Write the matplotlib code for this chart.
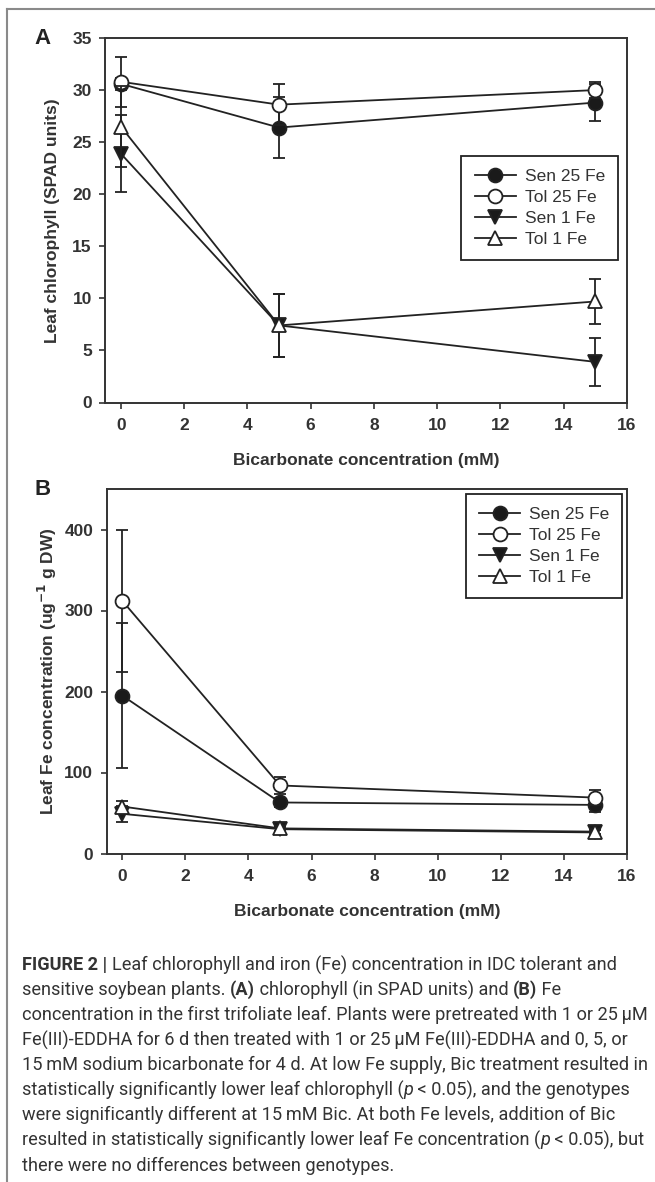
import numpy as np
import matplotlib
matplotlib.use("Agg")
import matplotlib.pyplot as plt
from matplotlib.lines import Line2D

W, H = 655, 1182

# bicarbonate concentration (mM)
bic = [0, 5, 15]

# panel A - leaf chlorophyll (SPAD units)
chl_sen25 = [30.6, 26.4, 28.8]
chl_sen25_err = [0.6, 2.9, 1.8]
chl_tol25 = [30.8, 28.6, 30.0]
chl_tol25_err = [2.4, 2.0, 0.8]
chl_sen1 = [23.9, 7.4, 3.9]
chl_sen1_err = [3.7, 3.0, 2.3]
chl_tol1 = [26.5, 7.4, 9.7]
chl_tol1_err = [3.9, 3.0, 2.2]

# panel B - leaf Fe concentration
fe_sen25 = [195, 63, 60]
fe_sen25_err = [90, 5, 9]
fe_tol25 = [312, 84, 69]
fe_tol25_err = [88, 10, 9]
fe_sen1 = [49, 30, 26]
fe_sen1_err = [10, 3, 3]
fe_tol1 = [58, 31, 27]
fe_tol1_err = [7, 3, 3]

labels = ["Sen 25 Fe", "Tol 25 Fe", "Sen 1 Fe", "Tol 1 Fe"]
markers = ["o", "o", "v", "^"]
faces = ["#1a1a1a", "white", "#1a1a1a", "white"]

plt.rcParams['font.family'] = ['Liberation Sans', 'DejaVu Sans']
INK = "#222222"
FS = 12.5

fig = plt.figure(figsize=(W / 100, H / 100), dpi=100)


def box(l, t, r, b):
    return [l / W, 1 - b / H, (r - l) / W, (b - t) / H]


def style_axes(ax):
    for s in ax.spines.values():
        s.set_linewidth(1.4)
        s.set_color("#333333")
    ax.tick_params(direction="out", length=4.5, width=1.2, color="#333333",
                   labelsize=FS, pad=5)
    ax.tick_params(axis="x", pad=7)
    for lab in ax.get_xticklabels() + ax.get_yticklabels():
        lab.set_fontweight("bold")
        lab.set_color("#333333")


def draw_panel(ax, series, errs):
    for i in range(4):
        ax.errorbar(bic, series[i], yerr=errs[i], color=INK, lw=1.3,
                    elinewidth=1.3, capsize=4.5, capthick=1.3,
                    marker=markers[i], ms=10, mfc=faces[i], mec=INK, mew=1.3,
                    zorder=3 + i)


# ---------- panel A
axA = fig.add_axes(box(105, 38, 627, 402.5))
draw_panel(axA, [chl_sen25, chl_tol25, chl_sen1, chl_tol1],
           [chl_sen25_err, chl_tol25_err, chl_sen1_err, chl_tol1_err])
axA.set_xlim(-0.5, 16)
axA.set_ylim(0, 35)
axA.set_xticks(np.arange(0, 17, 2))
axA.set_yticks(np.arange(0, 36, 5))
style_axes(axA)
axA.set_ylabel("Leaf chlorophyll (SPAD units)", fontsize=FS, fontweight="bold",
               color="#333333", labelpad=9)
axA.set_xlabel("Bicarbonate concentration (mM)", fontsize=FS, fontweight="bold",
               color="#333333", labelpad=14)

# ---------- panel B
axB = fig.add_axes(box(106.5, 489, 627, 853.5))
draw_panel(axB, [fe_sen25, fe_tol25, fe_sen1, fe_tol1],
           [fe_sen25_err, fe_tol25_err, fe_sen1_err, fe_tol1_err])
axB.set_xlim(-0.5, 16)
axB.set_ylim(0, 450)
axB.set_xticks(np.arange(0, 17, 2))
axB.set_yticks(np.arange(0, 401, 100))
style_axes(axB)
axB.set_ylabel("Leaf Fe concentration (ug$^{\\mathbf{-1}}$ g DW)", fontsize=FS,
               fontweight="bold", color="#333333", labelpad=4)
axB.set_xlabel("Bicarbonate concentration (mM)", fontsize=FS, fontweight="bold",
               color="#333333", labelpad=14)

handles = [Line2D([], [], color=INK, lw=1.3, marker=markers[i], ms=10,
                  mfc=faces[i], mec=INK, mew=1.3) for i in range(4)]
for ax, anchor in [(axA, (0.983, 0.676)), (axB, (0.991, 0.986))]:
    leg = ax.legend(handles, labels, loc="upper right", bbox_to_anchor=anchor,
                    borderaxespad=0, fancybox=False, framealpha=1,
                    edgecolor="#222222", fontsize=FS, handlelength=2.4,
                    handletextpad=0.5, labelspacing=0.33, borderpad=0.75)
    leg.get_frame().set_linewidth(1.3)
    for t in leg.get_texts():
        t.set_color("#333333")

# panel letters
fig.text(34 / W, 1 - 38 / H, "A", fontsize=16, fontweight="bold", va="center",
         color="#222222")
fig.text(34 / W, 1 - 490 / H, "B", fontsize=16, fontweight="bold", va="center",
         color="#222222")

# outer frame lines
fig.add_artist(Line2D([7 / W, 7 / W], [0, 1 - 9 / H], color="#8a8a8a", lw=1.5))
fig.add_artist(Line2D([7 / W, 1], [1 - 9 / H, 1 - 9 / H], color="#8a8a8a", lw=1.5))

# caption
cap_lines = [
    [("FIGURE 2 | ", "bold", "normal"),
     ("Leaf chlorophyll and iron (Fe) concentration in IDC tolerant and", "normal", "normal")],
    [("sensitive soybean plants. ", "normal", "normal"), ("(A)", "bold", "normal"),
     (" chlorophyll (in SPAD units) and ", "normal", "normal"), ("(B)", "bold", "normal"),
     (" Fe", "normal", "normal")],
    [("concentration in the first trifoliate leaf. Plants were pretreated with 1 or 25\u2009\u03bcM", "normal", "normal")],
    [("Fe(III)-EDDHA for 6 d then treated with 1 or 25\u2009\u03bcM Fe(III)-EDDHA and 0, 5, or", "normal", "normal")],
    [("15\u2009mM sodium bicarbonate for 4 d. At low Fe supply, Bic treatment resulted in", "normal", "normal")],
    [("statistically significantly lower leaf chlorophyll (", "normal", "normal"), ("p", "normal", "italic"),
     (" < 0.05), and the genotypes", "normal", "normal")],
    [("were significantly different at 15\u2009mM Bic. At both Fe levels, addition of Bic", "normal", "normal")],
    [("resulted in statistically significantly lower leaf Fe concentration (", "normal", "normal"),
     ("p", "normal", "italic"), (" < 0.05), but", "normal", "normal")],
    [("there were no differences between genotypes.", "normal", "normal")],
]
cap_y = [965, 990, 1015, 1040, 1065, 1090, 1115, 1140, 1166]
cap_family = ['Roboto', 'DejaVu Sans']

fig.canvas.draw()
renderer = fig.canvas.get_renderer()

# pick caption size so the widest line spans like the reference (~623 px)
widest = 0
for parts in cap_lines:
    w = 0
    for txt, wt, st in parts:
        t = fig.text(0, 0, txt, fontsize=13, fontweight=wt, fontstyle=st,
                     family=cap_family)
        w += t.get_window_extent(renderer).width
        t.remove()
    widest = max(widest, w)
cap_fs = 13 * 623 / widest

for parts, yy in zip(cap_lines, cap_y):
    x = 22
    for txt, wt, st in parts:
        t = fig.text(x / W, 1 - yy / H, txt, fontsize=cap_fs, fontweight=wt,
                     fontstyle=st, family=cap_family, va="center",
                     color="#333333")
        x += t.get_window_extent(renderer).width

fig.savefig("out.png", dpi=100)
